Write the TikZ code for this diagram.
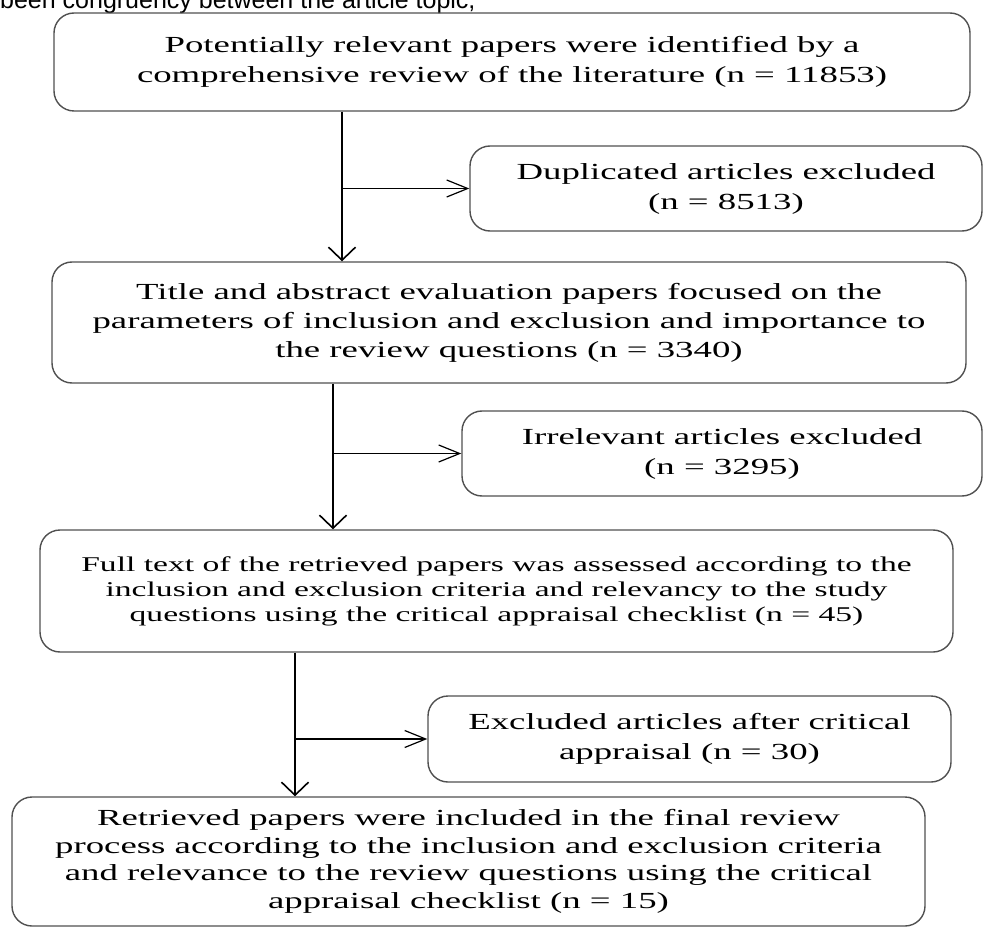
\documentclass[tikz,border=0pt]{standalone}
\usepackage{fontspec}
\usepackage{xcolor}
\usetikzlibrary{arrows.meta,positioning,calc}
\newfontfamily\flowfont[FakeStretch=1.6]{Liberation Serif}
\newfontfamily\pagefont{Liberation Sans}
\definecolor{boxgray}{HTML}{505050}

\tikzset{
  stage/.style={draw=boxgray, line width=1.4pt, rounded corners=20pt, align=center,
    inner sep=0pt, font=\flowfont\fontsize{23}{30}\selectfont},
  down/.style={draw=black, line width=1.8pt, -{Straight Barb[length=13pt,width=27pt,line width=1.6pt]}},
  side/.style={draw=black, line width=1.2pt, -{Straight Barb[length=21pt,width=17pt,line width=1.2pt]}}
}

\begin{document}
\begin{tikzpicture}[x=1pt,y=-1pt]
        \useasboundingbox (0,0) rectangle (983,928);

        % Cut-off text line above
        \node[anchor=base west, inner sep=0pt, font=\pagefont\fontsize{25}{25}\selectfont] (pageline) at (0,9)
            {been congruency between the article topic,};

        % Main boxes
        \node[stage, minimum width=916, minimum height=98] (ident) at (512,62)
            {Potentially relevant papers were identified by a\\comprehensive review of the literature (n = 11853)};
        \node[stage, minimum width=914, minimum height=121, font=\flowfont\fontsize{23}{29}\selectfont] (screen) at (509,322.5)
            {Title and abstract evaluation papers focused on the\\parameters of inclusion and exclusion and importance to\\the review questions (n = 3340)};
        \node[stage, minimum width=913, minimum height=122, font=\flowfont\fontsize{21}{25}\selectfont] (fulltext) at (496.5,591)
            {Full text of the retrieved papers was assessed according to the\\inclusion and exclusion criteria and relevancy to the study\\questions using the critical appraisal checklist (n = 45)};
        \node[stage, minimum width=913, minimum height=129, font=\flowfont\fontsize{23}{27.5}\selectfont] (incl) at (468.5,861.5)
            {Retrieved papers were included in the final review\\process according to the inclusion and exclusion criteria\\and relevance to the review questions using the critical\\appraisal checklist (n = 15)};

        % Exclusion boxes
        \node[stage, minimum width=512, minimum height=85] (dupl) at (726,188.5)
            {Duplicated articles excluded\\(n = 8513)};
        \node[stage, minimum width=520, minimum height=85] (irrel) at (722,453.5)
            {Irrelevant articles excluded\\(n = 3295)};
        \node[stage, minimum width=523, minimum height=86] (crit) at (689.5,739)
            {Excluded articles after critical\\appraisal (n = 30)};

        % Branch points
        \coordinate (j1) at (342,188.5);
        \coordinate (j2) at (333,453.5);
        \coordinate (j3) at (295,739);

        % Arrows
        \draw[down] (j1 |- ident.south) -- (j1 |- screen.north);
        \draw[side] (j1) -- (dupl.west);
        \draw[down] (j2 |- screen.south) -- (j2 |- fulltext.north);
        \draw[side] (j2) -- (irrel.west);
        \draw[down] (j3 |- fulltext.south) -- (j3 |- incl.north);
        \draw[side] (j3) -- (crit.west);
    \end{tikzpicture}
\end{document}
